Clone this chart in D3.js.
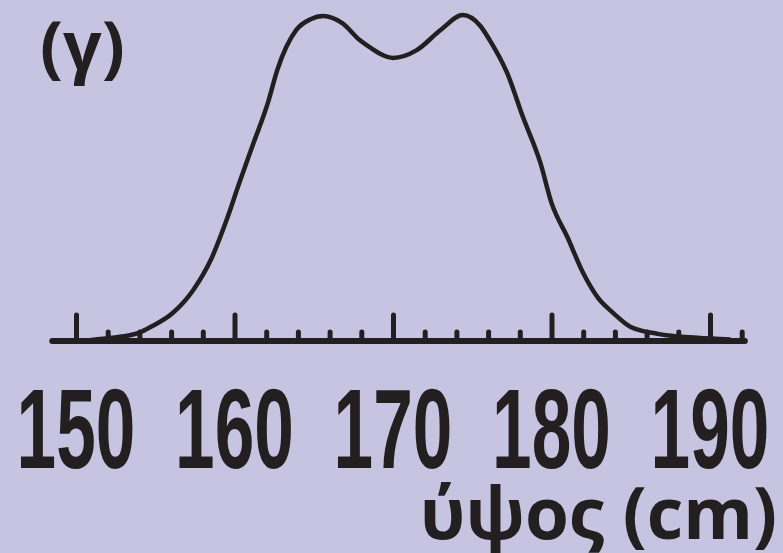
<!DOCTYPE html>
<html>
<head>
<meta charset="utf-8">
<script src="https://cdn.jsdelivr.net/npm/d3@7"></script>
<style>
  body { margin: 0; background: #c7c4e2; }
  svg { display: block; }
</style>
</head>
<body>
<div id="chart"></div>
<script>
// height in cm and relative frequency (peak = 100)
var heights = [150.6, 151.5, 152.8, 154.0, 154.7, 156.1, 157.4, 158.5, 159.5, 160.3, 161.2, 162.1, 162.7, 163.9,
  164.8, 165.6, 166.8, 167.9, 168.5, 170.0, 171.5, 173.0, 174.4, 175.5, 176.1, 177.2, 178.2, 179.3,
  180.0, 181.0, 182.0, 182.9, 183.9, 185.0, 186.7, 189.2, 191.3];
var freq = [0, 0.6, 1.3, 2.6, 4.3, 8.6, 15.7, 24.9, 37.2, 48.6, 60.9, 73.2, 83.4, 95.7,
  99.0, 100, 97.8, 92.6, 90.5, 87.1, 89.5, 95.7, 100.3, 97.0, 92.6, 82.5, 68.9, 54.8,
  42.5, 32.0, 20.9, 13.5, 8.6, 4.3, 2.2, 1.0, 0.5];
var majorTicks = [150, 160, 170, 180, 190];
var minorTicks = [152, 154, 156, 158, 162, 164, 166, 168, 172, 174, 176, 178, 182, 184, 186, 188, 192];
var panelLabel = "(γ)";
var axisTitle = "ύψος (cm)";

var svgWidth = 783;
var svgHeight = 553;
var ink = "#231f20";

var svg = d3.select("#chart")
  .append("svg")
  .attr("width", svgWidth)
  .attr("height", svgHeight);

svg.append("rect")
  .attr("width", svgWidth)
  .attr("height", svgHeight)
  .attr("fill", "#c7c4e2");

var x = d3.scaleLinear().domain([150, 190]).range([76, 710]);
var y = d3.scaleLinear().domain([0, 100]).range([341, 16]);

// minor ticks
svg.append("g")
  .attr("transform", "translate(0,341)")
  .call(d3.axisBottom(x).tickValues(minorTicks).tickSize(-9).tickFormat(""))
  .call(g => g.select(".domain").remove())
  .call(g => g.selectAll("line").attr("stroke", ink).attr("stroke-width", 5).attr("stroke-linecap", "round"));

// major ticks
svg.append("g")
  .attr("transform", "translate(0,341)")
  .call(d3.axisBottom(x).tickValues(majorTicks).tickSize(-26).tickFormat(""))
  .call(g => g.select(".domain").remove())
  .call(g => g.selectAll("line").attr("stroke", ink).attr("stroke-width", 5).attr("stroke-linecap", "round"));

// baseline
svg.append("line")
  .attr("x1", x(148.5))
  .attr("x2", x(192.2))
  .attr("y1", 341)
  .attr("y2", 341)
  .attr("stroke", ink)
  .attr("stroke-width", 6)
  .attr("stroke-linecap", "round");

// curve
var line = d3.line()
  .x((d, i) => x(heights[i]))
  .y(d => y(d))
  .curve(d3.curveMonotoneX);

svg.append("path")
  .datum(freq)
  .attr("d", line)
  .attr("fill", "none")
  .attr("stroke", ink)
  .attr("stroke-width", 4.5)
  .attr("stroke-linejoin", "round");

// tick labels, condensed bold
svg.append("g").selectAll("text")
  .data(majorTicks)
  .enter()
  .append("text")
  .attr("transform", d => `translate(${x(d)},468) scale(0.63,1)`)
  .attr("text-anchor", "middle")
  .attr("font-family", "'Liberation Sans', Arial, sans-serif")
  .attr("font-weight", "bold")
  .attr("font-size", 113)
  .attr("fill", ink)
  .text(d => d);

svg.append("text")
  .attr("x", 40)
  .attr("y", 70)
  .attr("font-family", "'Open Sans', sans-serif")
  .attr("font-weight", "bold")
  .attr("font-size", 68)
  .attr("fill", ink)
  .text(panelLabel);

svg.append("text")
  .attr("x", 777)
  .attr("y", 539)
  .attr("text-anchor", "end")
  .attr("font-family", "'Open Sans', sans-serif")
  .attr("font-weight", "bold")
  .attr("font-size", 71)
  .attr("fill", ink)
  .text(axisTitle);
</script>
</body>
</html>
